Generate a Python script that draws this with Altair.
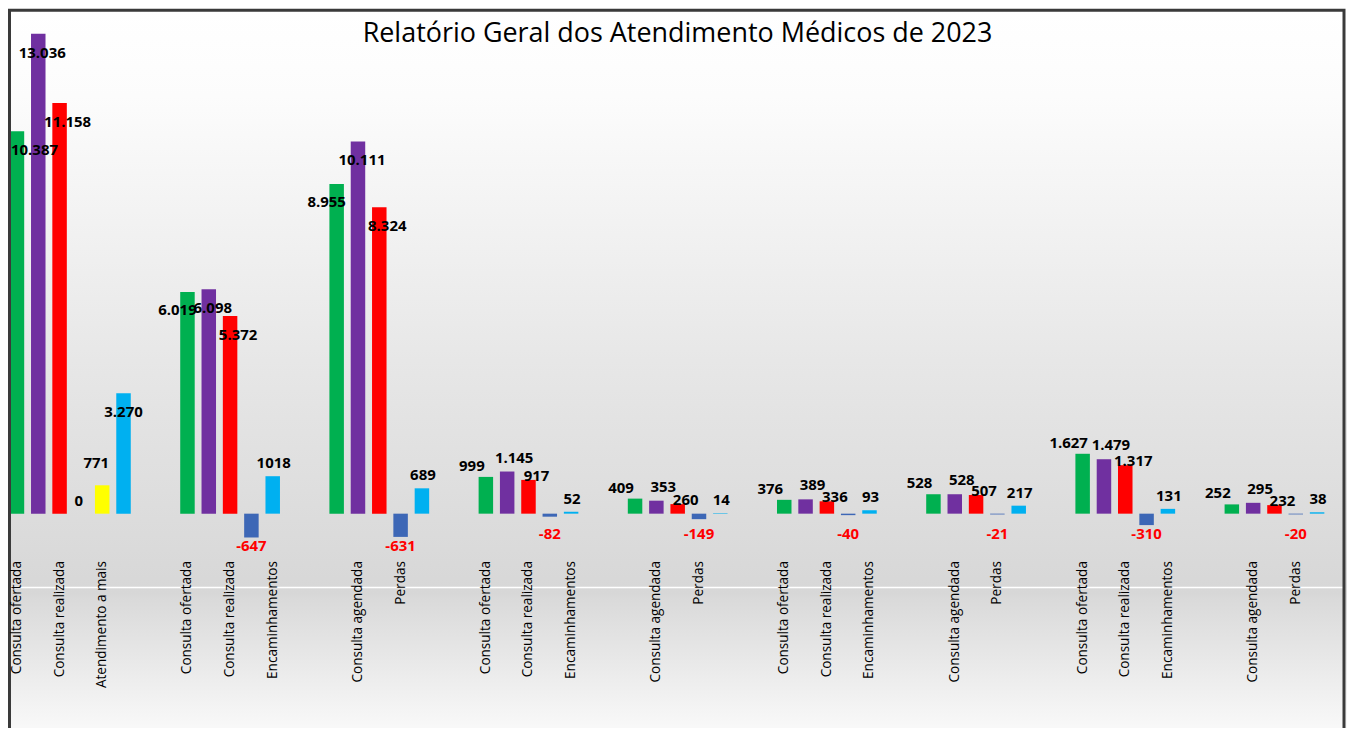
import altair as alt
import pandas as pd

# ---------------- data ----------------
series = ["Consulta ofertada", "Consulta agendada", "Consulta realizada",
          "Perdas", "Atendimento a mais", "Encaminhamentos"]
colors = ["#00b050", "#7030a0", "#ff0000", "#3d67b6", "#ffff00", "#00b0f0"]

ofertada = [10387, 6019, 8955, 999, 409, 376, 528, 1627, 252]
agendada = [13036, 6098, 10111, 1145, 353, 389, 528, 1479, 295]
realizada = [11158, 5372, 8324, 917, 260, 336, 507, 1317, 232]
perdas = [0, -647, -631, -82, -149, -40, -21, -310, -20]
atendimento_a_mais = [771, None, None, None, None, None, None, None, None]
encaminhamentos = [3270, 1018, 689, 52, 14, 93, 217, 131, 38]

# labels shown without thousands separator in the original
sem_separador = [(1, "Encaminhamentos")]

titulo = "Relatório Geral dos Atendimento Médicos de 2023"

# ---------------- build table ----------------
all_vals = [ofertada, agendada, realizada, perdas, atendimento_a_mais, encaminhamentos]
rows = []
axis_labels = []
slot = 0
n_groups = len(ofertada)
for g in range(n_groups):
    for s, vals in zip(series, all_vals):
        v = vals[g]
        if v is None:
            continue
        if (g, s) in sem_separador:
            txt = str(v)
        else:
            txt = f"{v:,}".replace(",", ".")
        rows.append(dict(slot=slot, serie=s, valor=v, rotulo=txt))
        axis_labels.append(s if slot % 2 == 0 else "")
        slot += 1
    if g < n_groups - 1:
        axis_labels += ["", ""]
        slot += 2
n_slots = slot
df = pd.DataFrame(rows)

label_expr = "[" + ",".join("'" + l + "'" for l in axis_labels) + "][datum.value]"

W, H = 1321, 532
PAD_L, PAD_T, PAD_R, PAD_B = 0, 12, 21, 176
TOTAL_W = PAD_L + W + PAD_R
TOTAL_H = PAD_T + H + PAD_B

FONT = "Open Sans"

xenc = alt.X(
    "slot:O",
    scale=alt.Scale(domain=list(range(n_slots)), paddingInner=0.32, paddingOuter=0.08),
    axis=alt.Axis(title=None, labelExpr=label_expr, labelAngle=270, labelAlign="right",
                  labelBaseline="middle", ticks=False, domain=False, grid=False,
                  labelPadding=9, labelFont=FONT, labelFontSize=13.6, labelColor="black",
                  labelOverlap=False, labelBound=False, zindex=1),
)
yscale = alt.Scale(domain=[-1030, 13390], nice=False, zero=True)
yenc = alt.Y("valor:Q", scale=yscale, axis=None)

base = alt.Chart(df)
one = alt.Chart(pd.DataFrame({"k": [0]}))

background = one.mark_rect(
    fill={"gradient": "linear", "x1": 0, "y1": 0, "x2": 0, "y2": 1,
          "stops": [{"offset": 0, "color": "#ffffff"},
                    {"offset": 0.12, "color": "#fcfcfc"},
                    {"offset": 0.5, "color": "#e6e6e6"},
                    {"offset": 0.80, "color": "#d7d7d7"},
                    {"offset": 0.81, "color": "#dadada"},
                    {"offset": 1, "color": "#fbfbfb"}]}
).encode(x=alt.value(-PAD_L), x2=alt.value(TOTAL_W), y=alt.value(-PAD_T), y2=alt.value(TOTAL_H))

white_line = one.mark_rule(color="white", strokeWidth=1.5).encode(
    x=alt.value(-PAD_L), x2=alt.value(TOTAL_W - 2), y=alt.value(568)
)

title_mark = one.mark_text(font=FONT, fontSize=27, color="black", align="center",
                           baseline="alphabetic").encode(
    x=alt.value(671), y=alt.value(21), text=alt.value(titulo)
)

bars = base.mark_bar().encode(
    x=xenc, y=yenc,
    color=alt.Color("serie:N", scale=alt.Scale(domain=series, range=colors), legend=None),
)

txt_style = dict(font=FONT, fontSize=15, fontWeight="bold")


def labels(flt, dx, dy, color="black", align="center"):
    return base.transform_filter(flt).mark_text(
        dx=dx, dy=dy, color=color, align=align, **txt_style
    ).encode(x=xenc, y=yenc, text="rotulo:N")


# per-series nudges of the value labels (placement style of the original)
nudge_big = {"Consulta ofertada": (-10, 18), "Consulta agendada": (4, 19),
             "Consulta realizada": (8, 19), "Encaminhamentos": (0, 19)}
nudge_small = {"Consulta ofertada": (-14, -11), "Consulta agendada": (7, -14),
               "Consulta realizada": (8, -4), "Perdas": (-2, -13),
               "Atendimento a mais": (-6, -22), "Encaminhamentos": (1, -13)}

label_layers = [labels("datum.valor >= 3000 && datum.slot == 0", -6, 19, align="left")]
for s, (dx, dy) in nudge_big.items():
    label_layers.append(labels(f"datum.valor >= 3000 && datum.slot > 0 && datum.serie == '{s}'", dx, dy))
for s, (dx, dy) in nudge_small.items():
    label_layers.append(labels(f"datum.valor >= 0 && datum.valor < 3000 && datum.serie == '{s}'", dx, dy))

neg = base.transform_filter("datum.valor < 0").transform_calculate(
    ypos="min(datum.valor, -300)"
).mark_text(dy=9, color="#ff0000", **txt_style).encode(
    x=xenc, y=alt.Y("ypos:Q", scale=yscale, axis=None), text="rotulo:N"
)

frame = one.mark_rect(fillOpacity=0, stroke="#3a3a3a", strokeWidth=3).encode(
    x=alt.value(1.5), x2=alt.value(TOTAL_W - 3), y=alt.value(-PAD_T + 1.5), y2=alt.value(TOTAL_H + 10)
)

chart = alt.layer(background, white_line, bars, *label_layers, neg, title_mark, frame).properties(
    width=W, height=H,
    autosize=alt.AutoSizeParams(type="none"),
    padding={"left": PAD_L, "top": PAD_T, "right": PAD_R, "bottom": PAD_B},
).configure_view(strokeWidth=0).configure(background="white")

chart.save("out.html", embed_options={"renderer": "svg", "actions": False})
